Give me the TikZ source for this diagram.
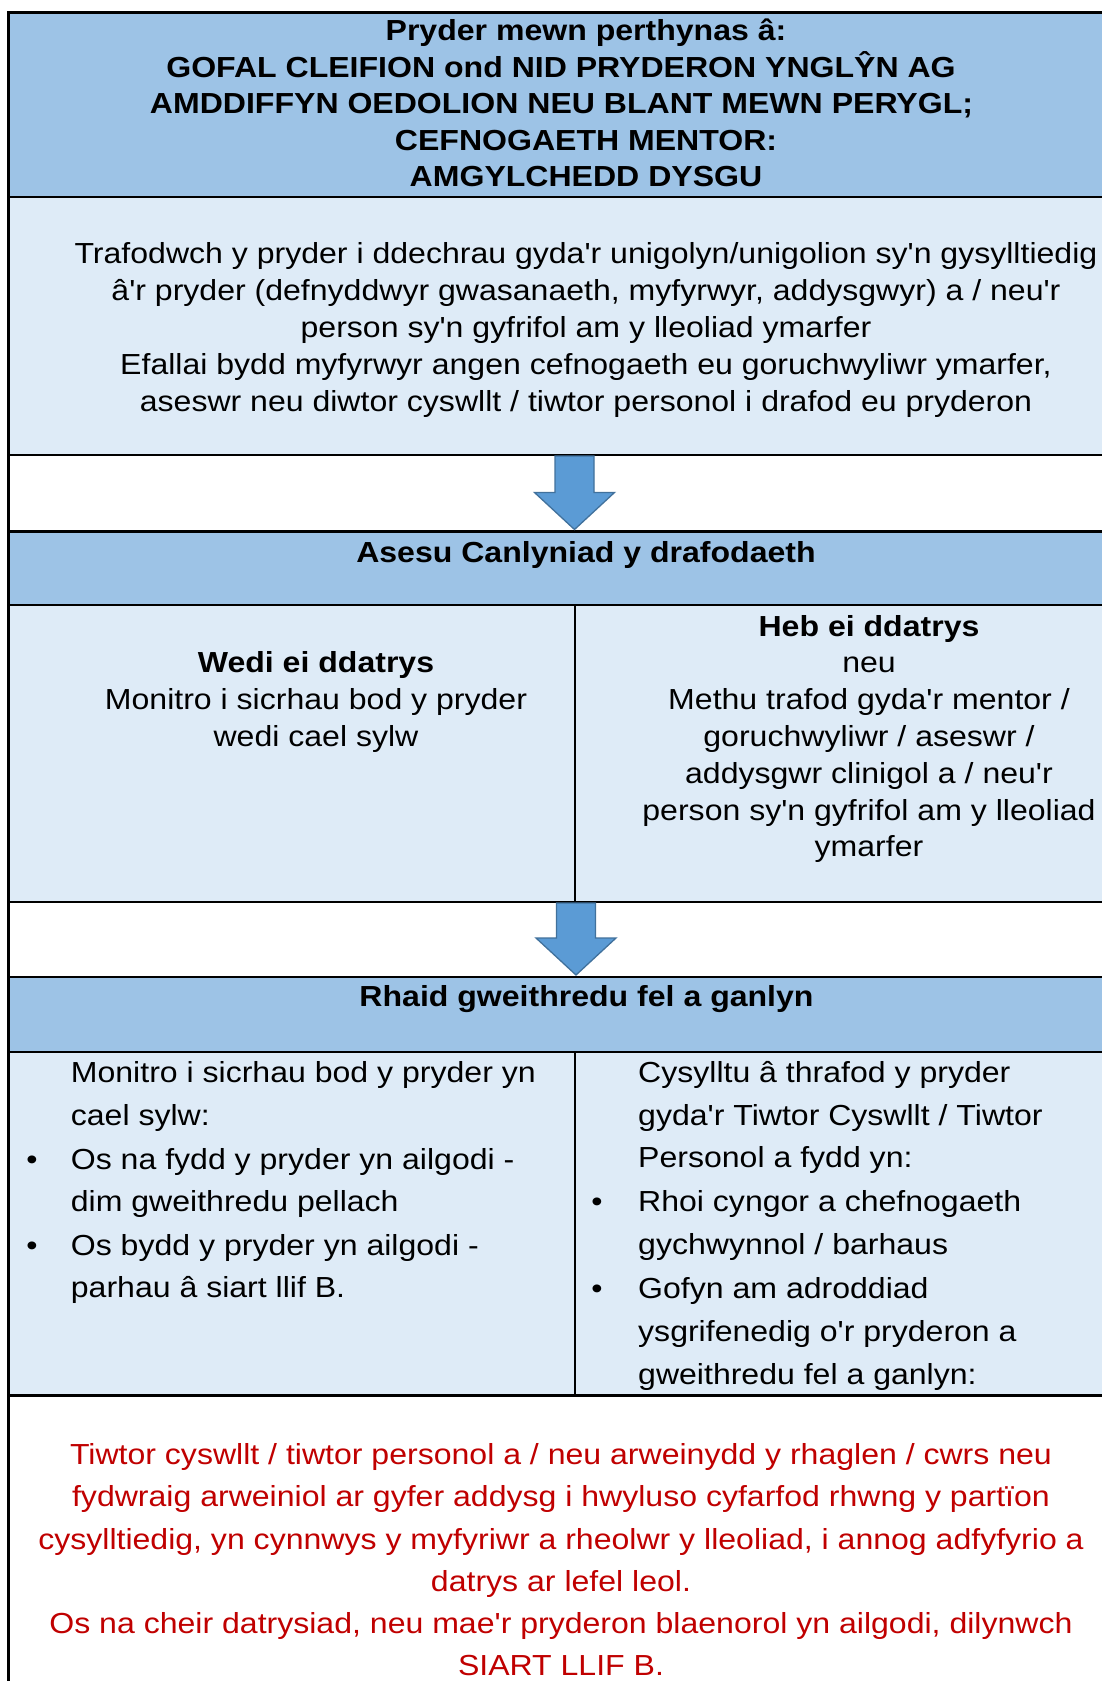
\documentclass[tikz,border=0pt]{standalone}
\usepackage{fontspec}
\setmainfont{Liberation Sans}[Ligatures=TeXOff, FakeStretch=1.105]
\usetikzlibrary{calc}
\definecolor{hdblue}{HTML}{9DC3E6}
\definecolor{ltblue}{HTML}{DEEBF7}
\definecolor{arrfill}{HTML}{5B9BD5}
\definecolor{arrline}{HTML}{41719C}
\definecolor{redtext}{HTML}{C00000}
\tikzset{
  rowbox/.style={draw=black, line width=2.5pt, inner sep=0pt, outer sep=0pt, anchor=north west, minimum width=1154.3pt},
  hdtx/.style={font=\fontsize{29}{35}\selectfont\bfseries, inner sep=0pt, anchor=base},
  ctx/.style={font=\fontsize{29}{35}\selectfont, inner sep=0pt, anchor=base},
  ltx/.style={font=\fontsize{29}{35}\selectfont, inner sep=0pt, anchor=base west},
  bultx/.style={font=\fontsize{29}{35}\selectfont, inner sep=0pt, anchor=base},
  rtx/.style={ctx, text=redtext},
  blockarrow/.style={fill=arrfill, draw=arrline, line width=1.3pt, line join=miter},
  divider/.style={draw=black, line width=2pt}
}
\begin{document}
\begin{tikzpicture}[x=1pt,y=-1pt]
\useasboundingbox (0,0) rectangle (1102,1681);
\clip (0,0) rectangle (1102,1681);
\fill[white] (0,0) rectangle (1102,1681);
% rows
\node[rowbox, fill=hdblue, minimum height=184.5pt] (r1) at (8.7,12.5) {};
\node[rowbox, fill=ltblue, minimum height=258pt] (r2) at (8.7,197) {};
\node[rowbox, fill=white, minimum height=76.5pt] (g1) at (8.7,455) {};
\node[rowbox, fill=hdblue, minimum height=73.5pt] (r3) at (8.7,531.5) {};
\node[rowbox, fill=ltblue, minimum height=297pt] (r4) at (8.7,605) {};
\node[rowbox, fill=white, minimum height=75pt] (g2) at (8.7,902) {};
\node[rowbox, fill=hdblue, minimum height=75pt] (r5) at (8.7,977) {};
\node[rowbox, fill=ltblue, minimum height=343.5pt] (r6) at (8.7,1052) {};
\node[rowbox, fill=white, minimum height=320pt] (r7) at (8.7,1395.5) {};
\coordinate (mid) at (575,0);
% dividers
\draw[divider] (mid |- r4.north) -- (mid |- r4.south);
\draw[divider] (mid |- r6.north) -- (mid |- r6.south);
% block arrows
\coordinate (a1s) at ($(mid |- r2.south)+(-0.5,1)$);
\coordinate (a1e) at ($(mid |- r3.north)+(-0.5,-2)$);
\draw[blockarrow] ($(a1s)+(-19.5,0)$) -- ($(a1s)+(19.5,0)$) -- ($(a1e)+(19.5,-37)$) -- ($(a1e)+(40,-37)$) -- (a1e) -- ($(a1e)+(-40,-37)$) -- ($(a1e)+(-19.5,-37)$) -- cycle;
\coordinate (a2s) at ($(mid |- r4.south)+(1,1)$);
\coordinate (a2e) at ($(mid |- r5.north)+(1,-2)$);
\draw[blockarrow] ($(a2s)+(-19.5,0)$) -- ($(a2s)+(19.5,0)$) -- ($(a2e)+(19.5,-37)$) -- ($(a2e)+(40,-37)$) -- (a2e) -- ($(a2e)+(-40,-37)$) -- ($(a2e)+(-19.5,-37)$) -- cycle;
% header
\node[hdtx] (h1) at (586,40.5) {Pryder mewn perthynas â:};
\node[hdtx] (h2) at (561,77) {GOFAL CLEIFION ond NID PRYDERON YNGLŶN AG};
\node[hdtx] (h3) at (561.5,113.5) {AMDDIFFYN OEDOLION NEU BLANT MEWN PERYGL;};
\node[hdtx] (h4) at (586,150) {CEFNOGAETH MENTOR:};
\node[hdtx] (h5) at (586,186.5) {AMGYLCHEDD DYSGU};
% box 2
\node[ctx] (b1) at (586,263.3) {Trafodwch y pryder i ddechrau gyda'r unigolyn/unigolion sy'n gysylltiedig};
\node[ctx] (b2) at (586,300) {â'r pryder (defnyddwyr gwasanaeth, myfyrwyr, addysgwyr) a / neu'r};
\node[ctx] (b3) at (586,337) {person sy'n gyfrifol am y lleoliad ymarfer};
\node[ctx] (b4) at (586,374) {Efallai bydd myfyrwyr angen cefnogaeth eu goruchwyliwr ymarfer,};
\node[ctx] (b5) at (586,411) {aseswr neu diwtor cyswllt / tiwtor personol i drafod eu pryderon};
% Asesu
\node[hdtx] (as) at (586,562) {Asesu Canlyniad y drafodaeth};
% split 1
\node[hdtx] (w1) at (316,672.5) {Wedi ei ddatrys};
\node[ctx] (w2) at (316,709) {Monitro i sicrhau bod y pryder};
\node[ctx] (w3) at (316,746.5) {wedi cael sylw};
\node[hdtx] (n1) at (869,636) {Heb ei ddatrys};
\node[ctx] (n2) at (869,672.5) {neu};
\node[ctx] (n3) at (869,709) {Methu trafod gyda'r mentor /};
\node[ctx] (n4) at (869,746.5) {goruchwyliwr / aseswr /};
\node[ctx] (n5) at (869,783) {addysgwr clinigol a / neu'r};
\node[ctx] (n6) at (869,820) {person sy'n gyfrifol am y lleoliad};
\node[ctx] (n7) at (869,856) {ymarfer};
% Rhaid
\node[hdtx] (rh) at (586.5,1006) {Rhaid gweithredu fel a ganlyn};
% split 2 left
\node[ltx] (l1) at (70.7,1082) {Monitro i sicrhau bod y pryder yn};
\node[ltx] (l2) at (70.7,1125) {cael sylw:};
\node[bultx] (lb1) at (32,1169) {•};
\node[ltx] (l3) at (70.7,1169) {Os na fydd y pryder yn ailgodi -};
\node[ltx] (l4) at (70.7,1211) {dim gweithredu pellach};
\node[bultx] (lb2) at (32,1255) {•};
\node[ltx] (l5) at (70.7,1255) {Os bydd y pryder yn ailgodi -};
\node[ltx] (l6) at (70.7,1297) {parhau â siart llif B.};
% split 2 right
\node[ltx] (q1) at (638,1082) {Cysylltu â thrafod y pryder};
\node[ltx] (q2) at (638,1125) {gyda'r Tiwtor Cyswllt / Tiwtor};
\node[ltx] (q3) at (638,1167) {Personol a fydd yn:};
\node[bultx] (qb1) at (597,1211) {•};
\node[ltx] (q4) at (638,1211) {Rhoi cyngor a chefnogaeth};
\node[ltx] (q5) at (638,1254) {gychwynnol / barhaus};
\node[bultx] (qb2) at (597,1298) {•};
\node[ltx] (q6) at (638,1298) {Gofyn am adroddiad};
\node[ltx] (q7) at (638,1341) {ysgrifenedig o'r pryderon a};
\node[ltx] (q8) at (638,1384) {gweithredu fel a ganlyn:};
% red
\node[rtx] (t1) at (561,1464) {Tiwtor cyswllt / tiwtor personol a / neu arweinydd y rhaglen / cwrs neu};
\node[rtx] (t2) at (561,1506) {fydwraig arweiniol ar gyfer addysg i hwyluso cyfarfod rhwng y partïon};
\node[rtx] (t3) at (561,1549) {cysylltiedig, yn cynnwys y myfyriwr a rheolwr y lleoliad, i annog adfyfyrio a};
\node[rtx] (t4) at (561,1591) {datrys ar lefel leol.};
\node[rtx] (t5) at (561,1633) {Os na cheir datrysiad, neu mae'r pryderon blaenorol yn ailgodi, dilynwch};
\node[rtx] (t6) at (561,1675) {SIART LLIF B.};
\end{tikzpicture}
\end{document}
